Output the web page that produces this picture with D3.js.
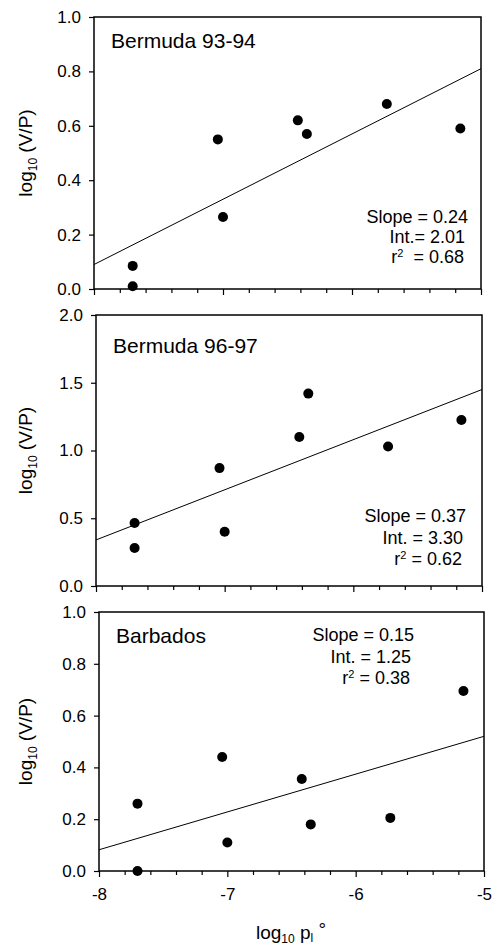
<!DOCTYPE html>
<html>
<head>
<meta charset="utf-8">
<script src="https://cdn.jsdelivr.net/npm/d3@7"></script>
<style>
  body { margin: 0; background: #fff; }
  text { font-family: "Liberation Sans", Arial, Helvetica, sans-serif; fill: #000; }
</style>
</head>
<body>
<script>
// values
var panelNames = ["Bermuda 93-94", "Bermuda 96-97", "Barbados"];
var xVals = [-7.70, -7.70, -7.04, -7.00, -6.42, -6.35, -5.73, -5.16];
var yBerm9394 = [0.085, 0.01, 0.55, 0.265, 0.62, 0.57, 0.68, 0.59];
var yBerm9697 = [0.465, 0.28, 0.87, 0.40, 1.10, 1.42, 1.03, 1.225];
var yBarbados = [0.26, 0.0, 0.44, 0.11, 0.355, 0.18, 0.205, 0.695];
var ySeries = [yBerm9394, yBerm9697, yBarbados];

var fitIntercept = [2.01, 3.30, 1.25];
var fitSlope = [0.24, 0.37, 0.146];

var slopeText = ["Slope = 0.24", "Slope = 0.37", "Slope = 0.15"];
var intText = ["Int.= 2.01", "Int. = 3.30", "Int. = 1.25"];
var r2Text = ["\u00a0 = 0.68", " = 0.62", " = 0.38"];

var yMax = [1.0, 2.0, 1.0];
var yTicks = [[0, 0.2, 0.4, 0.6, 0.8, 1.0], [0, 0.5, 1.0, 1.5, 2.0], [0, 0.2, 0.4, 0.6, 0.8, 1.0]];
var xDomain = [-8, -5];
var xMajor = [-8, -7, -6, -5];

// layout (scan is a bit skewed, so each panel has its own x range)
var W = 492, H = 947;
var panels = [
  {top: 17, bottom: 289, left: 94, right: 481, labelDy: 31, annX: 468, annY: 206, annStep: 20},
  {top: 315, bottom: 586, left: 96, right: 482, labelDy: 38, annX: 466, annY: 207, annStep: 21.5},
  {top: 612, bottom: 871, left: 99, right: 484, labelDy: 31, annX: 414, annY: 29, annStep: 21.5}
];

var svg = d3.select("body").append("svg")
    .attr("width", W)
    .attr("height", H);

panels.forEach(function(p, i) {
  var x = d3.scaleLinear().domain(xDomain).range([p.left, p.right]);
  var y = d3.scaleLinear().domain([0, yMax[i]]).range([p.bottom, p.top]);
  var g = svg.append("g");

  // frame
  g.append("rect")
      .attr("x", p.left).attr("y", p.top)
      .attr("width", p.right - p.left).attr("height", p.bottom - p.top)
      .attr("fill", "none").attr("stroke", "#000").attr("stroke-width", 1.5);

  // y axis
  var yAxis = d3.axisLeft(y)
      .tickValues(yTicks[i])
      .tickFormat(d3.format(".1f"))
      .tickSize(5)
      .tickPadding(8);
  var ga = g.append("g")
      .attr("transform", "translate(" + p.left + ",0)")
      .call(yAxis);
  ga.select(".domain").remove();
  ga.selectAll("line").attr("stroke-width", 1.2);
  ga.selectAll("text").style("font-size", "17px");

  // x axis: minor ticks every 0.2, major at integers
  var minor = d3.range(-8, -5.0001, 0.2).filter(function(v) {
    return Math.abs(v - Math.round(v)) > 0.01;
  });
  var gm = g.append("g")
      .attr("transform", "translate(0," + p.bottom + ")")
      .call(d3.axisBottom(x).tickValues(minor).tickSize(4).tickFormat(""));
  gm.select(".domain").remove();
  gm.selectAll("line").attr("stroke-width", 1.2);

  var gx = g.append("g")
      .attr("transform", "translate(0," + p.bottom + ")")
      .call(d3.axisBottom(x).tickValues(xMajor).tickSize(6).tickPadding(11)
        .tickFormat(function(d) { return i === 2 ? String(d) : ""; }));
  gx.select(".domain").remove();
  gx.selectAll("line").attr("stroke-width", 1.2);
  gx.selectAll("text").style("font-size", "17px");

  // regression line
  var line = d3.line()
      .x(function(d) { return x(d); })
      .y(function(d) { return y(fitIntercept[i] + fitSlope[i] * d); });
  g.append("path")
      .datum(xDomain)
      .attr("d", line)
      .attr("fill", "none")
      .attr("stroke", "#000")
      .attr("stroke-width", 1);

  // points
  g.selectAll(".dot")
      .data(xVals.map(function(v, k) { return [v, ySeries[i][k]]; }))
      .enter().append("circle")
      .attr("class", "dot")
      .attr("cx", function(d) { return x(d[0]); })
      .attr("cy", function(d) { return y(d[1]); })
      .attr("r", 5)
      .attr("fill", "#000");

  // panel label
  g.append("text")
      .attr("x", p.left + 17)
      .attr("y", p.top + p.labelDy)
      .style("font-size", "21px")
      .text(panelNames[i]);

  // stats
  var ann = g.append("g").style("font-size", "18px").attr("text-anchor", "end");
  ann.append("text")
      .attr("x", p.annX).attr("y", p.top + p.annY)
      .text(slopeText[i]);
  ann.append("text")
      .attr("x", p.annX - 3).attr("y", p.top + p.annY + p.annStep)
      .text(intText[i]);
  var r2 = ann.append("text")
      .attr("x", p.annX - 4).attr("y", p.top + p.annY + 2 * p.annStep);
  r2.append("tspan").text("r");
  r2.append("tspan").attr("dy", -6).style("font-size", "11px").text("2");
  r2.append("tspan").attr("dy", 6).text(r2Text[i]);

  // y axis title
  var yl = g.append("text")
      .attr("transform", "translate(32," + ((p.top + p.bottom) / 2) + ") rotate(-90)")
      .attr("text-anchor", "middle")
      .style("font-size", "19px");
  yl.append("tspan").text("log");
  yl.append("tspan").attr("dy", 5).style("font-size", "12px").text("10");
  yl.append("tspan").attr("dy", -5).text(" (V/P)");
});

// x axis title
var xl = svg.append("text")
    .attr("x", 291)
    .attr("y", 939)
    .attr("text-anchor", "middle")
    .style("font-size", "19px");
xl.append("tspan").text("log");
xl.append("tspan").attr("dy", 4).style("font-size", "12px").text("10");
xl.append("tspan").attr("dy", -4).text(" p");
xl.append("tspan").attr("dy", 3).style("font-size", "12px").text("l");
xl.append("tspan").attr("dy", -6).text(" \u00b0");
</script>
</body>
</html>
